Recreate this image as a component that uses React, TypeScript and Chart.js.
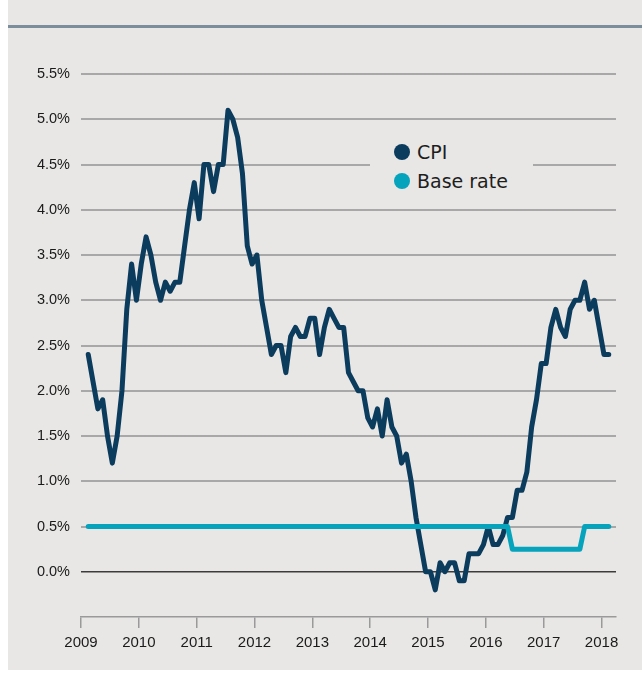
import React, { useEffect, useRef } from "react";
import { Chart, registerables } from "chart.js";

Chart.register(...registerables);

// Year tick labels on the x axis
const yearLabels = ["2009", "2010", "2011", "2012", "2013", "2014", "2015", "2016", "2017", "2018"];

// Monthly observations; position of first observation (in months from start of 2009)
const startYear = 2009;
const firstMonthOffset = 1.5;

// CPI, % (monthly)
const cpi = [
  2.4, 2.1, 1.8, 1.9, 1.5, 1.2, 1.5, 2.0, 2.9, 3.4, 3.0, 3.4,
  3.7, 3.5, 3.2, 3.0, 3.2, 3.1, 3.2, 3.2, 3.6, 4.0, 4.3, 3.9,
  4.5, 4.5, 4.2, 4.5, 4.5, 5.1, 5.0, 4.8, 4.4, 3.6, 3.4, 3.5,
  3.0, 2.7, 2.4, 2.5, 2.5, 2.2, 2.6, 2.7, 2.6, 2.6, 2.8, 2.8,
  2.4, 2.7, 2.9, 2.8, 2.7, 2.7, 2.2, 2.1, 2.0, 2.0, 1.7, 1.6,
  1.8, 1.5, 1.9, 1.6, 1.5, 1.2, 1.3, 1.0, 0.6, 0.3, 0.0, 0.0,
  -0.2, 0.1, 0.0, 0.1, 0.1, -0.1, -0.1, 0.2, 0.2, 0.2, 0.3, 0.5,
  0.3, 0.3, 0.4, 0.6, 0.6, 0.9, 0.9, 1.1, 1.6, 1.9, 2.3, 2.3,
  2.7, 2.9, 2.7, 2.6, 2.9, 3.0, 3.0, 3.2, 2.9, 3.0, 2.7, 2.4,
  2.4,
];

// Bank base rate, % (monthly)
const baseRate = [
  0.5, 0.5, 0.5, 0.5, 0.5, 0.5, 0.5, 0.5, 0.5, 0.5, 0.5, 0.5,
  0.5, 0.5, 0.5, 0.5, 0.5, 0.5, 0.5, 0.5, 0.5, 0.5, 0.5, 0.5,
  0.5, 0.5, 0.5, 0.5, 0.5, 0.5, 0.5, 0.5, 0.5, 0.5, 0.5, 0.5,
  0.5, 0.5, 0.5, 0.5, 0.5, 0.5, 0.5, 0.5, 0.5, 0.5, 0.5, 0.5,
  0.5, 0.5, 0.5, 0.5, 0.5, 0.5, 0.5, 0.5, 0.5, 0.5, 0.5, 0.5,
  0.5, 0.5, 0.5, 0.5, 0.5, 0.5, 0.5, 0.5, 0.5, 0.5, 0.5, 0.5,
  0.5, 0.5, 0.5, 0.5, 0.5, 0.5, 0.5, 0.5, 0.5, 0.5, 0.5, 0.5,
  0.5, 0.5, 0.5, 0.5, 0.25, 0.25, 0.25, 0.25, 0.25, 0.25, 0.25, 0.25,
  0.25, 0.25, 0.25, 0.25, 0.25, 0.25, 0.25, 0.5, 0.5, 0.5, 0.5, 0.5,
  0.5,
];

const seriesNames = ["CPI", "Base rate"];
const seriesColors = ["#0b3c5d", "#06a3bd"];

const toPoints = (vals: number[]) =>
  vals.map((v, i) => ({ x: startYear + (i + firstMonthOffset) / 12, y: v }));

const tickFont = "'Liberation Sans', Arial, sans-serif";

export default function App() {
  const ref = useRef<HTMLCanvasElement | null>(null);

  useEffect(() => {
    if (!ref.current) return;
    const chart = new Chart(ref.current, {
      type: "line",
      data: {
        datasets: [
          {
            label: seriesNames[1],
            data: toPoints(baseRate),
            borderColor: seriesColors[1],
            backgroundColor: seriesColors[1],
            borderWidth: 5,
            pointRadius: 0,
            tension: 0,
            borderCapStyle: "round",
            borderJoinStyle: "round",
            order: 0,
          },
          {
            label: seriesNames[0],
            data: toPoints(cpi),
            borderColor: seriesColors[0],
            backgroundColor: seriesColors[0],
            borderWidth: 5,
            pointRadius: 0,
            tension: 0,
            borderCapStyle: "round",
            borderJoinStyle: "round",
            order: 1,
          },
        ],
      },
      options: {
        animation: false,
        responsive: false,
        devicePixelRatio: 1,
        layout: { padding: { left: 0, top: 74, right: 26, bottom: 0 } },
        plugins: {
          legend: { display: false },
          tooltip: { enabled: false },
        },
        scales: {
          x: {
            type: "linear",
            min: 2009,
            max: 2018.25,
            afterBuildTicks: (scale: any) => {
              scale.ticks = yearLabels.map((y) => ({ value: Number(y) }));
            },
            afterFit: (scale: any) => {
              scale.height = 60;
            },
            ticks: {
              stepSize: 1,
              includeBounds: false,
              autoSkip: false,
              maxRotation: 0,
              padding: 6,
              color: "#1a1a1a",
              font: { family: tickFont, size: 15 },
              callback: (v: any) => yearLabels[Math.round(Number(v)) - startYear] ?? "",
            },
            grid: {
              drawOnChartArea: false,
              drawTicks: true,
              tickLength: 11,
              color: "#9a9a9a",
              lineWidth: 1.5,
            },
            border: { display: true, color: "#9a9a9a", width: 1.5 },
          },
          y: {
            min: -0.5,
            max: 5.5,
            afterFit: (scale: any) => {
              scale.width = 81;
            },
            ticks: {
              stepSize: 0.5,
              padding: 11,
              color: "#1a1a1a",
              font: { family: tickFont, size: 14.5 },
              callback: (v: any) => (Number(v) < 0 ? "" : Number(v).toFixed(1) + "%"),
            },
            grid: {
              drawTicks: false,
              lineWidth: (ctx: any) => (ctx.tick && ctx.tick.value === 0 ? 1.5 : 2),
              color: (ctx: any) => {
                const v = ctx.tick ? ctx.tick.value : null;
                if (v === 0) return "#3c3c3c";
                if (v !== null && v < 0) return "rgba(0,0,0,0)";
                return "#a8a8a8";
              },
            },
            border: { display: false },
          },
        },
      },
    });
    return () => chart.destroy();
  }, []);

  return (
    <div style={{ position: "absolute", left: 0, top: 0, width: 642, height: 677 }}>
      <div
        style={{
          position: "absolute",
          left: 8,
          top: 0,
          width: 634,
          height: 670,
          background: "#e8e7e5",
        }}
      />
      <div
        style={{
          position: "absolute",
          left: 8,
          top: 25,
          width: 634,
          height: 3,
          background: "#7a8e9b",
        }}
      />
      <canvas
        ref={ref}
        width={642}
        height={677}
        style={{ position: "absolute", left: 0, top: 0, width: 642, height: 677, display: "block" }}
      />
      <div
        style={{
          position: "absolute",
          left: 370,
          top: 136,
          width: 163,
          height: 62,
          background: "#e8e7e5",
        }}
      >
        {seriesNames.map((name, i) => (
          <div
            key={name}
            style={{
              position: "absolute",
              left: 24,
              top: 4 + i * 29,
              height: 24,
              display: "flex",
              alignItems: "center",
              whiteSpace: "nowrap",
            }}
          >
            <span
              style={{
                display: "inline-block",
                width: 16,
                height: 16,
                borderRadius: "50%",
                background: seriesColors[i],
                marginRight: 7,
              }}
            />
            <span
              style={{
                fontFamily: "'DejaVu Sans', sans-serif",
                fontSize: 19,
                lineHeight: "24px",
                color: "#1e1e1e",
              }}
            >
              {name}
            </span>
          </div>
        ))}
      </div>
    </div>
  );
}
